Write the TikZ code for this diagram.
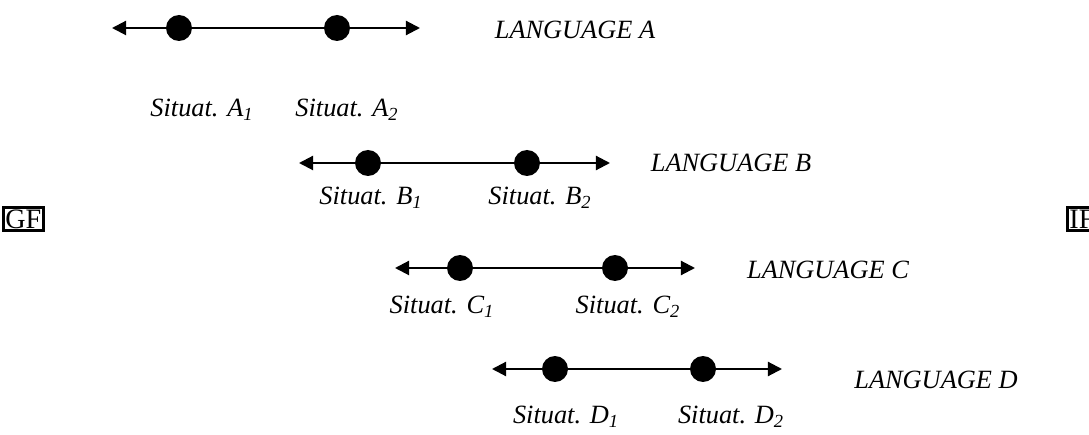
\documentclass[tikz,border=0pt]{standalone}
\usepackage{fontspec}
\setmainfont{Liberation Serif}
\usetikzlibrary{arrows.meta}

\tikzset{
  dot/.style={circle,fill,inner sep=0pt,minimum size=0.52cm},
  tip/.style={line width=1.2pt,-{Triangle[length=8pt,width=8pt]}},
  seg/.style={line width=1.2pt},
  lang/.style={font=\itshape\fontsize{15}{17}\selectfont},
  sit/.style={font=\itshape\fontsize{15}{17}\selectfont},
  endbox/.style={draw,line width=1.5pt,inner sep=1.2pt,font=\fontsize{16}{18}\selectfont}
}

\begin{document}
\begin{tikzpicture}[x=0.02cm,y=-0.02cm]
  \useasboundingbox (0,0) rectangle (1089,435);

  % the two ends
  \node[endbox,anchor=west] (gf) at (2,219) {GF};
  \node[endbox,anchor=west] (if) at (1066,219) {IF};

  % situations on each line
  \begin{scope}[every node/.style={dot}]
    \node (a1) at (179,28) {};
    \node (a2) at (337,28) {};
    \node (b1) at (368,163) {};
    \node (b2) at (527,163) {};
    \node (c1) at (460,268) {};
    \node (c2) at (615,268) {};
    \node (d1) at (555,369) {};
    \node (d2) at (703,369) {};
  \end{scope}

  \coordinate (a0) at (112,28);
  \coordinate (a3) at (420,28);
  \coordinate (b0) at (299,163);
  \coordinate (b3) at (610,163);
  \coordinate (c0) at (395,268);
  \coordinate (c3) at (695,268);
  \coordinate (d0) at (492,369);
  \coordinate (d3) at (782,369);

  \foreach \l in {a,b,c,d} {
    \draw[tip] (\l1.center) -- (\l0);
    \draw[seg] (\l1.center) -- (\l2.center);
    \draw[tip] (\l2.center) -- (\l3);
  }

  % language names
  \begin{scope}[every node/.style={lang}]
    \node (la) at (575,30) {LANGUAGE A};
    \node (lb) at (731,163) {LANGUAGE B};
    \node (lc) at (828,270) {LANGUAGE C};
    \node (ld) at (936,380) {LANGUAGE D};
  \end{scope}

  % labels under the dots
  \begin{scope}[every node/.style={sit}]
    \node (sa1) at (202,110) {Situat. A\textsubscript{1}};
    \node (sa2) at (347,110) {Situat. A\textsubscript{2}};
    \node (sb1) at (371,198) {Situat. B\textsubscript{1}};
    \node (sb2) at (540,198) {Situat. B\textsubscript{2}};
    \node (sc1) at (442,307) {Situat. C\textsubscript{1}};
    \node (sc2) at (628,307) {Situat. C\textsubscript{2}};
    \node (sd1) at (566,417) {Situat. D\textsubscript{1}};
    \node (sd2) at (731,417) {Situat. D\textsubscript{2}};
  \end{scope}

\end{tikzpicture}
\end{document}
